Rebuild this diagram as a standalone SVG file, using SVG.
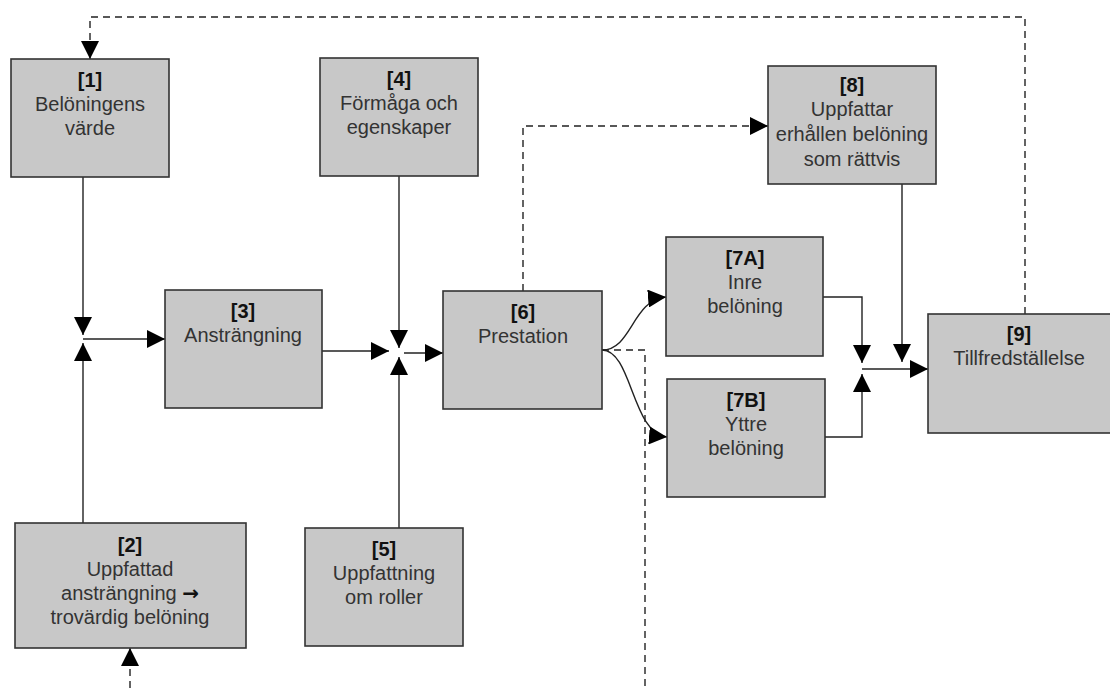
<svg xmlns="http://www.w3.org/2000/svg" width="1110" height="688" viewBox="0 0 1110 688">
<defs>
<marker id="ah" viewBox="0 0 18 18" markerWidth="18" markerHeight="18" refX="18" refY="9" orient="auto" markerUnits="userSpaceOnUse">
<path d="M0,0 L18,9 L0,18 Z" fill="#000"/>
</marker>
<style>
.box{fill:#c8c8c8;stroke:#333;stroke-width:1.6}
.t{font-family:"Liberation Sans",Arial,sans-serif;font-size:20px;fill:#333;text-anchor:middle}
.n{font-weight:bold;fill:#111}
.c{fill:none;stroke:#222;stroke-width:1.4}
.d{stroke-dasharray:7 5}
</style>
</defs>
<rect width="1110" height="688" fill="#fff"/>
<g id="connectors">
<path class="c" d="M83,177 V335" marker-end="url(#ah)"/>
<path class="c" d="M83,523 V343" marker-end="url(#ah)"/>
<path class="c" d="M83,339 H165" marker-end="url(#ah)"/>
<path class="c" d="M399,176 V348" marker-end="url(#ah)"/>
<path class="c" d="M399,528 V357" marker-end="url(#ah)"/>
<path class="c" d="M322,351 H389" marker-end="url(#ah)"/>
<path class="c" d="M404,353 H443" marker-end="url(#ah)"/>
<path class="c" d="M602,350 C632,350 632,300 666,297" marker-end="url(#ah)"/>
<path class="c" d="M602,350 C632,350 632,434 667,437" marker-end="url(#ah)"/>
<path class="c d" d="M602,350 H645 V688"/>
<path class="c d" d="M523,291 V126 H768" marker-end="url(#ah)"/>
<path class="c d" d="M1025,314 V17 H90 V59" marker-end="url(#ah)"/>
<path class="c d" d="M130,688 V648" marker-end="url(#ah)"/>
<path class="c" d="M823,297 H862 V363" marker-end="url(#ah)"/>
<path class="c" d="M825,437 H862 V374" marker-end="url(#ah)"/>
<path class="c" d="M862,369 H928" marker-end="url(#ah)"/>
<path class="c" d="M902,184 V362" marker-end="url(#ah)"/>
</g>
<g id="n1"><rect class="box" x="11" y="59" width="158" height="118"/>
<text class="t n" x="90" y="87">[1]</text><text class="t" x="90" y="111">Belöningens</text><text class="t" x="90" y="135">värde</text></g>
<g id="n2"><rect class="box" x="15" y="523" width="231" height="125"/>
<text class="t n" x="130" y="552">[2]</text><text class="t" x="130" y="576">Uppfattad</text><text class="t" x="130" y="600">ansträngning <tspan font-family="DejaVu Sans, sans-serif" font-weight="bold" fill="#111">→</tspan></text><text class="t" x="130" y="624">trovärdig belöning</text></g>
<g id="n3"><rect class="box" x="165" y="290" width="157" height="118"/>
<text class="t n" x="243" y="318">[3]</text><text class="t" x="243" y="342">Ansträngning</text></g>
<g id="n4"><rect class="box" x="320" y="58" width="158" height="118"/>
<text class="t n" x="399" y="86">[4]</text><text class="t" x="399" y="110">Förmåga och</text><text class="t" x="399" y="134">egenskaper</text></g>
<g id="n5"><rect class="box" x="305" y="528" width="158" height="118"/>
<text class="t n" x="384" y="556">[5]</text><text class="t" x="384" y="580">Uppfattning</text><text class="t" x="384" y="604">om roller</text></g>
<g id="n6"><rect class="box" x="443" y="291" width="159" height="118"/>
<text class="t n" x="523" y="319">[6]</text><text class="t" x="523" y="343">Prestation</text></g>
<g id="n7a"><rect class="box" x="666" y="237" width="157" height="119"/>
<text class="t n" x="745" y="265">[7A]</text><text class="t" x="745" y="289">Inre</text><text class="t" x="745" y="313">belöning</text></g>
<g id="n7b"><rect class="box" x="667" y="379" width="158" height="118"/>
<text class="t n" x="746" y="407">[7B]</text><text class="t" x="746" y="431">Yttre</text><text class="t" x="746" y="455">belöning</text></g>
<g id="n8"><rect class="box" x="768" y="66" width="168" height="118"/>
<text class="t n" x="852" y="92">[8]</text><text class="t" x="852" y="116">Uppfattar</text><text class="t" x="852" y="141">erhållen belöning</text><text class="t" x="852" y="166">som rättvis</text></g>
<g id="n9"><rect class="box" x="928" y="314" width="200" height="119"/>
<text class="t n" x="1019" y="341">[9]</text><text class="t" x="1019" y="365">Tillfredställelse</text></g>
</svg>
